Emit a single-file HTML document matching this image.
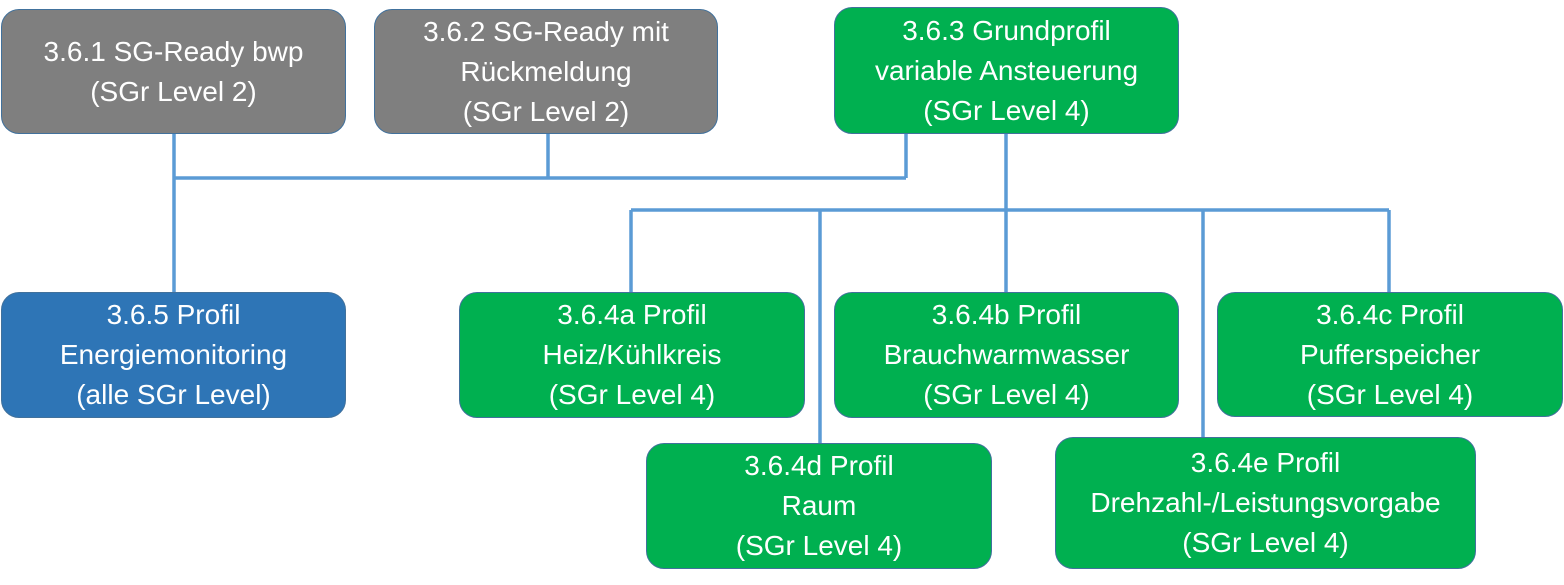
<!DOCTYPE html>
<html><head><meta charset="utf-8"><style>
html,body{margin:0;padding:0;background:#fff;}
body{width:1564px;height:585px;position:relative;overflow:hidden;font-family:"Liberation Sans",sans-serif;}
.b{position:absolute;box-sizing:border-box;border:1.5px solid #41719c;border-radius:18px;color:#fff;font-size:28px;line-height:40px;text-align:center;display:flex;align-items:center;justify-content:center;white-space:nowrap;}
.g{background:#7f7f7f}.n{background:#00b050}.u{background:#2e75b6}
svg{position:absolute;left:0;top:0}
</style></head><body>
<svg width="1564" height="585"><g stroke="#5b9bd5" stroke-width="3.5" fill="none">
<path d="M174 133V293M174 178H906M548 133V178M906 133V178"/>
<path d="M1006 133V210M631 210H1389M631 210V293M820 210V444M1006 210V293M1203 210V438M1389 210V293"/>
</g></svg>
<div class="b g" style="left:1px;top:9px;width:345px;height:125px">3.6.1 SG-Ready bwp<br>(SGr Level 2)</div>
<div class="b g" style="left:374px;top:9px;width:344px;height:125px">3.6.2 SG-Ready mit<br>Rückmeldung<br>(SGr Level 2)</div>
<div class="b n" style="left:834px;top:7px;width:345px;height:127px">3.6.3 Grundprofil<br>variable Ansteuerung<br>(SGr Level 4)</div>
<div class="b u" style="left:1px;top:292px;width:345px;height:126px">3.6.5 Profil<br>Energiemonitoring<br>(alle SGr Level)</div>
<div class="b n" style="left:459px;top:292px;width:346px;height:126px">3.6.4a Profil<br>Heiz/Kühlkreis<br>(SGr Level 4)</div>
<div class="b n" style="left:834px;top:292px;width:345px;height:126px">3.6.4b Profil<br>Brauchwarmwasser<br>(SGr Level 4)</div>
<div class="b n" style="left:1217px;top:292px;width:346px;height:125px">3.6.4c Profil<br>Pufferspeicher<br>(SGr Level 4)</div>
<div class="b n" style="left:646px;top:443px;width:346px;height:126px">3.6.4d Profil<br>Raum<br>(SGr Level 4)</div>
<div class="b n" style="left:1055px;top:437px;width:421px;height:132px">3.6.4e Profil<br>Drehzahl-/Leistungsvorgabe<br>(SGr Level 4)</div>
</body></html>
